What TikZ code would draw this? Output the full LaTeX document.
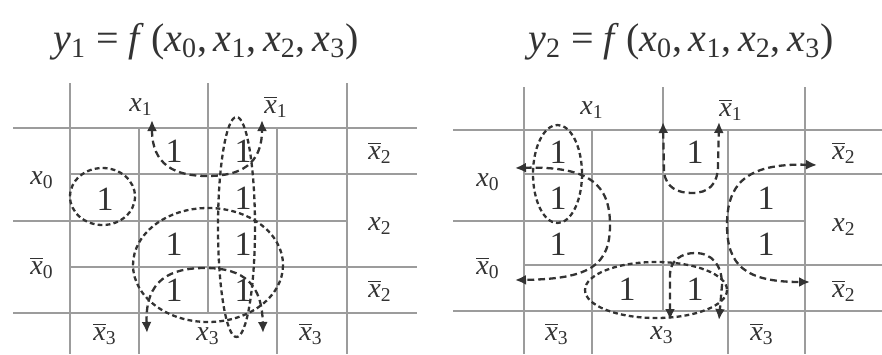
\documentclass[tikz,border=0pt]{standalone}
\usepackage{fontspec}
\setmainfont{Liberation Serif}
\usepackage{xcolor}
\usepackage{tikz}
\usetikzlibrary{arrows.meta}
\definecolor{gridgrey}{HTML}{9C9C9C}
\definecolor{ink}{HTML}{333333}
% variable with index, plain and negated
\newcommand{\kv}[1]{\textit{x}\textsubscript{#1}}
\newcommand{\kn}[1]{$\overline{\mbox{\textit{x}}}$\textsubscript{#1}}
\tikzset{
  gridln/.style={draw=gridgrey, line width=0.75pt},
  one/.style={font=\fontsize{17}{18}\selectfont, text=ink, inner sep=0pt},
  var/.style={font=\fontsize{14}{15}\selectfont, text=ink, inner sep=0pt},
  ttl/.style={font=\fontsize{20}{22}\selectfont, text=ink, inner sep=0pt},
  grp/.style={draw=ink, line width=1.15pt, dash pattern=on 2.4pt off 1.6pt},
  wrp/.style={draw=ink, line width=1.15pt, dash pattern=on 3.4pt off 2pt,
              {Latex[length=5.5pt,width=5pt]}-{Latex[length=5.5pt,width=5pt]}},
}

\begin{document}
\begin{tikzpicture}[x=0.5pt, y=-0.5pt]
  \useasboundingbox (0,0) rectangle (882,354);

  % titles
  \node[ttl, anchor=base] (ttlL) at (206,51)
    {\textit{y}\textsubscript{1} = \textit{f}\,(\kv{0},\,\kv{1},\,\kv{2},\,\kv{3})};
  \node[ttl, anchor=base] (ttlR) at (681,51)
    {\textit{y}\textsubscript{2} = \textit{f}\,(\kv{0},\,\kv{1},\,\kv{2},\,\kv{3})};

  % left map grid
  \foreach \y in {128,313} \draw[gridln] (13,\y) -- (417,\y);
  \foreach \y in {174,267} \draw[gridln] (70,\y) -- (417,\y);
  \draw[gridln] (13,221) -- (347,221);
  \foreach \x in {70,347} \draw[gridln] (\x,83) -- (\x,354);
  \foreach \x in {139,277} \draw[gridln] (\x,128) -- (\x,354);
  \draw[gridln] (208,83) -- (208,313);

  % right map grid
  \foreach \y in {130,311} \draw[gridln] (453,\y) -- (882,\y);
  \foreach \y in {174,265} \draw[gridln] (524,\y) -- (882,\y);
  \draw[gridln] (453,221) -- (805,221);
  \foreach \x in {524,805} \draw[gridln] (\x,87) -- (\x,354);
  \foreach \x in {592,728} \draw[gridln] (\x,130) -- (\x,354);
  \draw[gridln] (663,87) -- (663,311);

  % left map labels
  \node[var] (lx1)  at (141,107) {\kv{1}};
  \node[var] (lnx1) at (276,107) {\kn{1}};
  \node[var] (lx0)  at (42,180)  {\kv{0}};
  \node[var] (lnx0) at (42,268)  {\kn{0}};
  \node[var] (lnx2a) at (380,153) {\kn{2}};
  \node[var] (lx2)  at (380,226) {\kv{2}};
  \node[var] (lnx2b) at (380,291) {\kn{2}};
  \node[var] (lnx3a) at (105,334) {\kn{3}};
  \node[var] (lx3)  at (208,336) {\kv{3}};
  \node[var] (lnx3b) at (311,334) {\kn{3}};

  % right map labels
  \node[var] (rx1)  at (592,110) {\kv{1}};
  \node[var] (rnx1) at (731,110) {\kn{1}};
  \node[var] (rx0)  at (488,182) {\kv{0}};
  \node[var] (rnx0) at (488,268) {\kn{0}};
  \node[var] (rnx2a) at (844,153) {\kn{2}};
  \node[var] (rx2)  at (844,227) {\kv{2}};
  \node[var] (rnx2b) at (844,291) {\kn{2}};
  \node[var] (rnx3a) at (557,334) {\kn{3}};
  \node[var] (rx3)  at (662,335) {\kv{3}};
  \node[var] (rnx3b) at (762,334) {\kn{3}};

  % ones
  \foreach \x/\y [count=\i] in {174/151,243/151,105/199,243/198,
      174/244,243/244,174/290,243/290}
    \node[one] (lone\i) at (\x,\y) {1};
  \foreach \x/\y [count=\i] in {558/152,695/152,558/198,766/198,
      558/244,766/244,627/289,695/289}
    \node[one] (rone\i) at (\x,\y) {1};

  % left map groups
  \draw[grp] (102.5,196.5) ellipse [x radius=32.5, y radius=28.5];
  \draw[grp] (236.5,227) ellipse [x radius=18.5, y radius=110];
  \draw[grp] (208,265) ellipse [x radius=75, y radius=57];
  \draw[wrp] (152,120) .. controls (152,165) and (175,176) .. (207,176)
    .. controls (240,176) and (262,165) .. (262,120);
  \draw[wrp] (147,333) .. controls (145,280) and (170,268) .. (205,268)
    .. controls (245,268) and (262,285) .. (263,333);

  % right map groups
  \draw[grp] (557.5,174) ellipse [x radius=24.5, y radius=49];
  \draw[grp] (656,290) ellipse [x radius=71, y radius=28];
  \draw[wrp] (515,168) .. controls (590,166) and (610,185) .. (610,225)
    .. controls (610,265) and (590,279) .. (515,280);
  \draw[wrp] (817,165) .. controls (745,163) and (727,185) .. (727,225)
    .. controls (727,265) and (745,282) .. (810,282);
  \draw[wrp] (663,122) -- (664,172) .. controls (666,188) and (678,193) .. (692,193)
    .. controls (708,193) and (718,185) .. (718,165) -- (719,122);
  \draw[wrp] (670,320) -- (670,275) .. controls (670,260) and (682,253) .. (695,253)
    .. controls (712,253) and (722,265) .. (722,285) -- (719,320);
\end{tikzpicture}
\end{document}
